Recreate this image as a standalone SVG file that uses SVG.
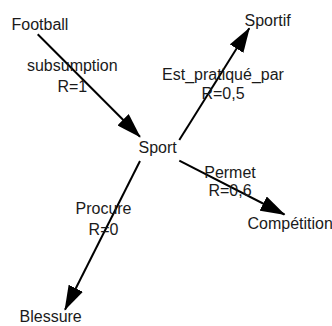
<svg xmlns="http://www.w3.org/2000/svg" width="332" height="326" viewBox="0 0 332 326">
  <style>
    text { font-family: "Liberation Sans", Arial, sans-serif; font-size: 16px; fill: #1a1a1a; }
    .lbl { text-anchor: middle; }
    .edge { stroke: #000; stroke-width: 2; fill: none; marker-end: url(#head); }
  </style>
  <defs>
    <marker id="head" markerUnits="userSpaceOnUse" viewBox="0 0 25 16" refX="24" refY="8" markerWidth="25" markerHeight="16" orient="auto">
      <path d="M0,0 L25,8 L0,16 Z" fill="#000"/>
    </marker>
  </defs>
  <rect width="332" height="326" fill="#fff"/>

  <!-- relations -->
  <g id="connectors">
    <g id="e-football-sport">
      <line class="edge" x1="37.7" y1="34.3" x2="140" y2="136.7"/>
      <text class="lbl" x="72.3" y="71">subsumption</text>
      <text class="lbl" x="72.3" y="91.5">R=1</text>
    </g>
    <g id="e-sport-sportif">
      <line class="edge" x1="179.3" y1="140" x2="249.3" y2="28.3"/>
      <text class="lbl" x="223" y="80">Est_pratiqué_par</text>
      <text class="lbl" x="223" y="99">R=0,5</text>
    </g>
    <g id="e-sport-competition">
      <line class="edge" x1="179.3" y1="160.7" x2="284.5" y2="214.5"/>
      <text class="lbl" x="230" y="178">Permet</text>
      <text class="lbl" x="230" y="196">R=0,6</text>
    </g>
    <g id="e-sport-blessure">
      <line class="edge" x1="140" y1="161" x2="65" y2="309.7"/>
      <text class="lbl" x="103.5" y="214">Procure</text>
      <text class="lbl" x="103.5" y="234.5">R=0</text>
    </g>
  </g>

  <!-- concepts -->
  <g id="n-football"><text x="11.5" y="30">Football</text></g>
  <g id="n-sportif"><text x="244.5" y="26">Sportif</text></g>
  <g id="n-sport"><text x="138.5" y="153">Sport</text></g>
  <g id="n-competition"><text x="247.5" y="229">Compétition</text></g>
  <g id="n-blessure"><text x="19.5" y="322">Blessure</text></g>
</svg>
